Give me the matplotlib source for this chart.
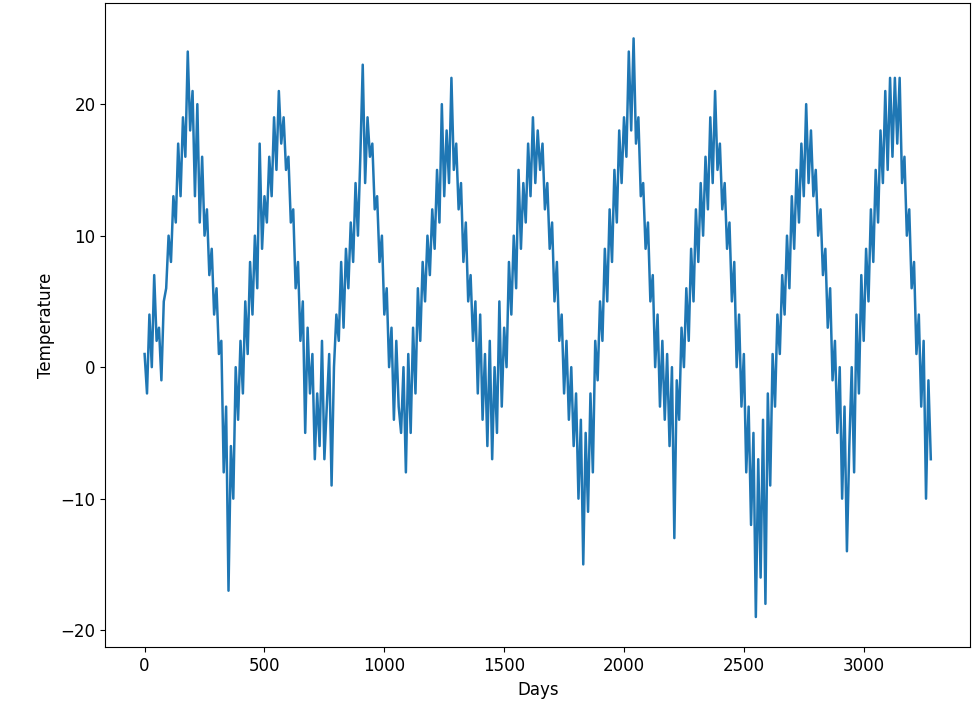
import numpy as np
import matplotlib
matplotlib.use("Agg")
import matplotlib.pyplot as plt

temps = [
 1,-2,4,0,7,2,3,-1,5,6,10,8,13,11,17,13,19,16,24,18,21,13,20,11,16,10,12,7,9,4,6,1,2,-8,-3,-17,-6,
 -10,0,-4,2,-2,5,1,8,4,10,6,17,9,13,11,16,13,19,15,21,17,19,15,16,11,12,6,8,2,5,-5,3,-2,1,-7,-2,-6,
 2,-7,-3,1,-9,0,4,2,8,3,9,6,11,8,14,10,16,23,14,19,16,17,12,13,8,10,4,6,0,3,-4,2,-3,-5,0,-8,
 1,-5,3,-2,6,2,8,5,10,7,12,9,15,11,20,13,18,14,22,15,17,12,14,8,11,5,7,2,5,-2,4,-4,1,-6,2,-7,0,
 -5,5,-3,3,0,8,4,10,6,15,9,14,11,17,13,19,14,18,15,17,12,14,9,11,5,8,2,4,-2,2,-4,0,-6,-2,-10,-4,-15,
 -5,-11,-2,-8,2,-1,5,2,9,5,12,8,15,11,18,14,19,16,24,18,25,17,19,13,14,9,11,5,7,0,4,-3,2,-4,1,-6,0,
 -13,-1,-4,3,0,6,2,9,5,12,8,14,10,16,12,19,14,21,15,17,12,14,9,11,5,8,0,4,-3,1,-8,-3,-12,-5,-19,-7,-16,
 -4,-18,-2,-9,1,-3,4,1,7,4,10,6,13,9,15,11,17,13,20,14,18,13,15,10,12,7,9,3,6,-1,2,-5,0,-10,-3,-14,-6,
 0,-8,4,-2,7,2,9,5,12,8,15,11,18,14,21,15,22,16,22,17,22,14,16,10,12,6,8,1,4,-3,2,-10,-1,-7,
]
days = np.arange(len(temps)) * 10

fig, ax = plt.subplots(figsize=(9.75, 7.24), dpi=100)
ax.plot(days, temps, color="#1f77b4", linewidth=1.8)
ax.set_xlabel("Days", fontsize=12)
ax.set_ylabel("Temperature", fontsize=12)
ax.tick_params(labelsize=12)
ax.set_xticks([0, 500, 1000, 1500, 2000, 2500, 3000])
ax.set_ylim(-21.3, 27.7)
plt.subplots_adjust(left=0.108, right=0.995, top=0.996, bottom=0.106)
fig.savefig("out.png")
